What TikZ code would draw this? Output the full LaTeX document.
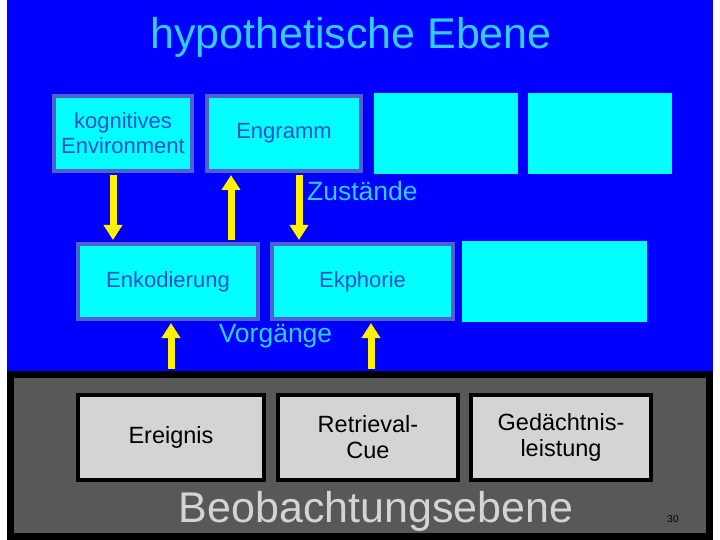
\documentclass[tikz,border=0pt]{standalone}
\usepackage{fontspec}
\setmainfont{Liberation Sans}
\usetikzlibrary{arrows.meta, positioning}

\definecolor{hypblue}{RGB}{0,0,255}
\definecolor{boxcyan}{RGB}{0,255,255}
\definecolor{frameblue}{RGB}{80,96,208}
\definecolor{textblue}{RGB}{40,80,200}
\definecolor{labelcyan}{RGB}{51,204,255}
\definecolor{obsgray}{RGB}{88,88,88}
\definecolor{cellgray}{RGB}{212,212,212}

\begin{document}
\begin{tikzpicture}[
  x=1pt, y=-1pt,
  box/.style={rectangle, draw=frameblue, fill=boxcyan, line width=4pt, align=center, text=textblue, font=\fontsize{22}{25}\selectfont},
  blank/.style={rectangle, fill=boxcyan, outer sep=0pt, minimum width=144pt, minimum height=81pt},
  cell/.style={rectangle, draw=black, fill=cellgray, line width=4pt, align=center, minimum width=180pt, minimum height=85pt, font=\fontsize{23.5}{26}\selectfont},
  label/.style={text=labelcyan, inner sep=0pt, font=\fontsize{26.5}{30}\selectfont},
  arrow/.style={-{Triangle[length=15pt, width=18pt]}, draw=yellow, line width=7pt, shorten <=2pt, shorten >=2pt}
]
\useasboundingbox (0,0) rectangle (720,540);
\fill[hypblue] (7,0) rectangle (713,540);

\node[text=labelcyan, font=\fontsize{43}{48}\selectfont] (title) at (351,37) {hypothetische Ebene};

% Zustaende
\node[box, minimum width=138pt, minimum height=75pt] (env) at (123,133.5) {kognitives\\Environment};
\node[box, minimum width=154pt, minimum height=75pt, right=11pt of env] (engram) {Engramm};
\node[blank, right=11pt of engram] (blankA) {};
\node[blank, right=10pt of blankA] (blankB) {};
\node[label, anchor=west] (states) at (307,191) {Zustände};

% Vorgaenge
\node[box, minimum width=180pt, minimum height=75pt] (encode) at (168,281.5) {Enkodierung};
\node[box, minimum width=181pt, minimum height=75pt, right=10pt of encode] (ecphory) {Ekphorie};
\node[blank, minimum width=185pt, right=7pt of ecphory] (blankC) {};
\node[label] (processes) at (275.5,336) {Vorgänge};

% Beobachtungsebene
\node[rectangle, draw=black, fill=obsgray, line width=7pt, minimum width=699pt, minimum height=162pt] (obs) at (360,455.5) {};
\node[cell, minimum width=186pt] (event) at (171,437.5) {Ereignis};
\node[cell, right=10pt of event] (cue) {Retrieval-\\Cue};
\node[cell, right=9pt of cue] (perf) {Gedächtnis-\\leistung};
\node[text=cellgray, font=\fontsize{43}{48}\selectfont] (obstitle) at (376,511) {Beobachtungsebene};
\node[font=\fontsize{10}{12}\selectfont] (page) at (673,519) {30};

\draw[arrow] ([xshift=-10pt]env.south) -- ([xshift=-10pt]env.south |- encode.north);
\draw[arrow] ([xshift=63pt]encode.north) -- ([xshift=63pt]encode.north |- engram.south);
\draw[arrow] ([xshift=15pt]engram.south) -- ([xshift=15pt]engram.south |- ecphory.north);
\draw[arrow] (obs.north -| event.north) -- (event.north |- encode.south);
\draw[arrow] ([xshift=8.5pt]ecphory.south |- obs.north) -- ([xshift=8.5pt]ecphory.south);
\end{tikzpicture}
\end{document}
